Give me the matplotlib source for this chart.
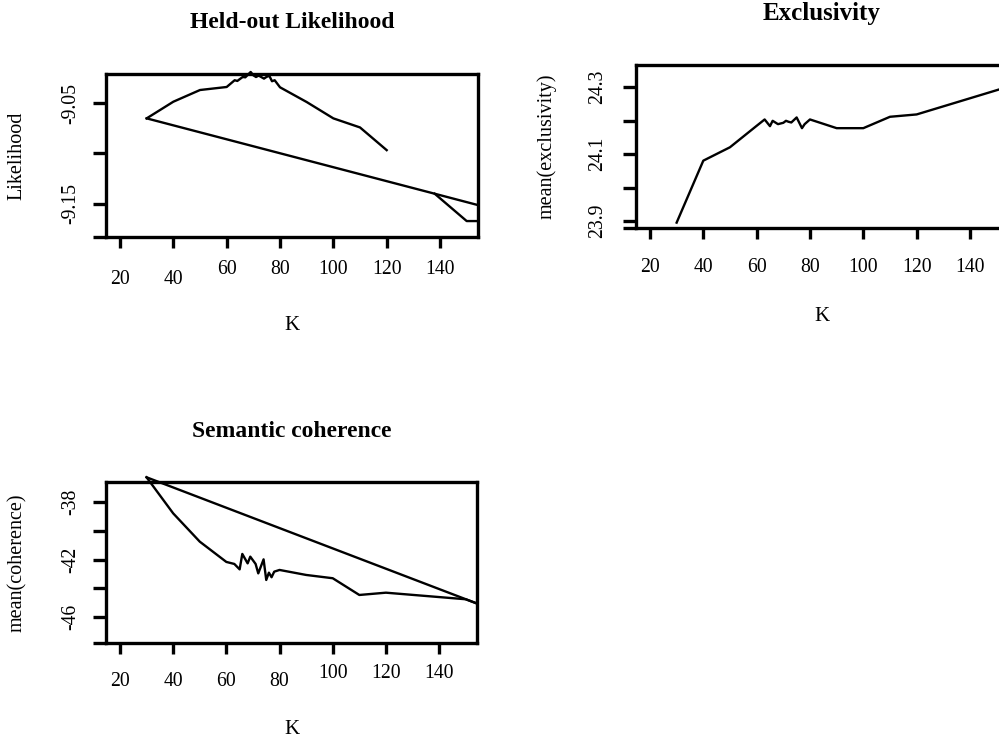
"""
Three-panel searchK-style diagnostics: held-out likelihood, exclusivity, semantic coherence vs K.
"""

import matplotlib

matplotlib.use("Agg")
import matplotlib.pyplot as plt

K_TICKS = [20, 40, 60, 80, 100, 120, 140]
K_LIMITS = (14.75, 154.25)

# Held-out likelihood (the path is drawn in the order stored)
HELDOUT_K = [30, 40, 50, 60, 63, 64, 66, 67, 69, 70, 71, 72, 74, 75, 76, 77, 78, 80, 90, 100, 110, 120]
HELDOUT_VAL = [-9.0652, -9.0487, -9.0371, -9.0341, -9.0274, -9.0281, -9.0242, -9.0245, -9.0192,
               -9.0225, -9.0242, -9.0228, -9.0258, -9.0240, -9.0231, -9.0284, -9.0274, -9.0344,
               -9.0490, -9.0652, -9.0742, -9.0967]
HELDOUT_RETURN_K = [30, 138, 154]
HELDOUT_RETURN_VAL = [-9.0652, -9.1399, -9.1510]
HELDOUT_TAIL_K = [138, 150, 154]
HELDOUT_TAIL_VAL = [-9.1399, -9.1670, -9.1670]

# Exclusivity
EXCL_K = [30, 40, 50, 60, 63, 65, 66, 68, 70, 71, 72, 73, 75, 77, 78, 80, 90, 100, 110, 120, 154]
EXCL_VAL = [23.896, 24.081, 24.121, 24.185, 24.204, 24.184, 24.200, 24.190, 24.194, 24.200,
            24.197, 24.195, 24.210, 24.178, 24.190, 24.204, 24.178, 24.178, 24.212, 24.219, 24.301]

# Semantic coherence
COH_K = [30, 40, 50, 60, 63, 65, 66, 68, 69, 71, 72, 74, 75, 76, 77, 78, 80, 90, 100, 110, 120, 150, 154]
COH_VAL = [-36.25, -38.77, -40.75, -42.17, -42.31, -42.69, -41.61, -42.27, -41.80, -42.31, -42.97,
           -41.99, -43.43, -42.92, -43.24, -42.85, -42.73, -43.08, -43.31, -44.48, -44.32, -44.78,
           -45.06]
COH_RETURN_K = [30, 154]
COH_RETURN_VAL = [-36.25, -45.06]

SERIF = ["Liberation Serif", "DejaVu Serif"]
LW_AXIS = 2.4
LW_DATA = 1.7


def style_axes(ax, ylim, yticks, ylabels, ylabel, x_pads, y_pad):
    """Function summary: R base-graphics look (box, rotated y labels, staggered x labels)."""
    ax.set_xlim(*K_LIMITS)
    ax.set_ylim(*ylim)
    for side in ax.spines.values():
        side.set_linewidth(LW_AXIS)
    ax.set_xticks(K_TICKS)
    ax.set_xticklabels([str(k) for k in K_TICKS], fontsize=14.2, family=SERIF)
    ax.set_yticks(yticks)
    ax.set_yticklabels(ylabels, fontsize=14.2, family=SERIF, rotation=90, va="center")
    ax.set_yticks([ylim[0]], minor=True)
    ax.tick_params(axis="x", length=7.9, width=LW_AXIS)
    ax.tick_params(axis="y", which="both", length=9.4, width=LW_AXIS, pad=y_pad)
    for tick, pad in zip(ax.xaxis.get_major_ticks(), x_pads):
        tick.set_pad(pad)
    ax.text(-0.239, 0.5, ylabel, transform=ax.transAxes, rotation=90, ha="center",
            va="center", fontsize=14.5, family=SERIF)
    ax.text(0.5, -0.54, "K", transform=ax.transAxes, ha="center", va="center",
            fontsize=15, family=SERIF)


def add_title(ax, text, size):
    ax.text(0.5, 1.315, text, transform=ax.transAxes, ha="center", va="center",
            fontsize=size, fontweight="bold", family=SERIF)


def main():
    fig = plt.figure(figsize=(9.99, 7.42), dpi=100)

    # Held-out likelihood
    ax1 = fig.add_axes([0.1061, 0.6806, 0.3724, 0.2197])
    for xs, ys in ((HELDOUT_K, HELDOUT_VAL), (HELDOUT_RETURN_K, HELDOUT_RETURN_VAL),
                   (HELDOUT_TAIL_K, HELDOUT_TAIL_VAL)):
        ax1.plot(xs, ys, color="black", linewidth=LW_DATA, clip_on=False)
    style_axes(ax1, (-9.1828, -9.0212), [-9.05, -9.10, -9.15], ["-9.05", "", "-9.15"],
               "Likelihood", [15.8, 15.8, 8.6, 8.6, 8.6, 8.6, 8.6], 8.8)
    add_title(ax1, "Held-out Likelihood", 17)

    # Exclusivity
    ax2 = fig.add_axes([0.6366, 0.6923, 0.3724, 0.2201])
    ax2.plot(EXCL_K, EXCL_VAL, color="black", linewidth=LW_DATA, clip_on=False)
    style_axes(ax2, (23.879, 24.3666), [23.9, 24.0, 24.1, 24.2, 24.3],
               ["23.9", "", "24.1", "", "24.3"], "mean(exclusivity)", [13.7] * 7, 11.5)
    add_title(ax2, "Exclusivity", 18)

    # Semantic coherence
    ax3 = fig.add_axes([0.1061, 0.1334, 0.3714, 0.2170])
    for xs, ys in ((COH_K, COH_VAL), (COH_RETURN_K, COH_RETURN_VAL)):
        ax3.plot(xs, ys, color="black", linewidth=LW_DATA, clip_on=False)
    style_axes(ax3, (-47.84, -36.58), [-38, -40, -42, -44, -46], ["-38", "", "-42", "", "-46"],
               "mean(coherence)", [13.0, 13.0, 13.0, 13.0, 7.2, 7.2, 7.2], 8.8)
    add_title(ax3, "Semantic coherence", 17)

    fig.savefig("out.png", dpi=100)
    plt.close(fig)


if __name__ == "__main__":
    main()
